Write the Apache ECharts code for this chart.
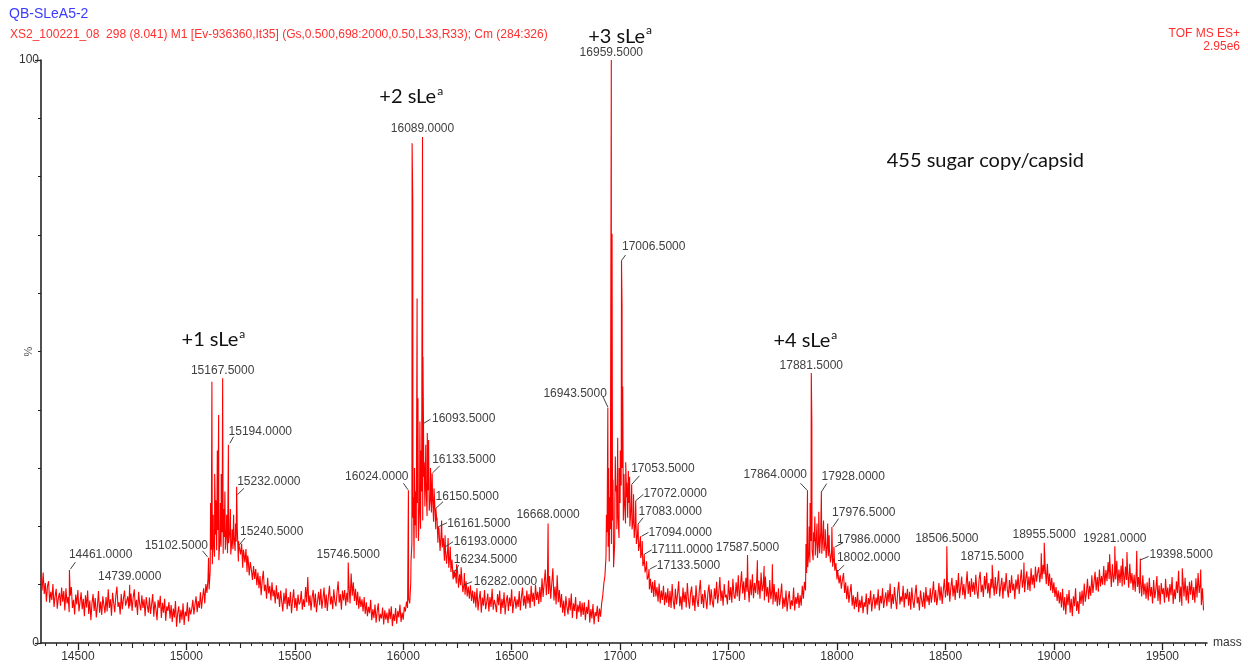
<!DOCTYPE html>
<html>
<head>
<meta charset="utf-8">
<script src="https://cdn.jsdelivr.net/npm/echarts@6/dist/echarts.min.js"></script>
<style>
  html, body { margin: 0; padding: 0; background: #ffffff; }
  #chart { width: 1248px; height: 667px; }
</style>
</head>
<body>
<div id="chart"></div>
<script>
// ---- Spectrum data (deconvoluted mass, % intensity) ----
// Baseline trace sampled every 5 Da starting at 14330 Da (one row = 100 Da).
const massStart = 14330;
const massStep = 5;
const baseline = [
  11.2, 9.0, 12.1, 8.4, 10.3, 7.1, 9.8, 10.6, 6.9, 8.8, 7.4, 10.1, 6.2, 8.0, 9.3, 5.9, 7.7, 8.6, 6.4, 9.5,          // 14330
  7.1, 8.9, 5.6, 9.4, 6.8, 7.9, 5.3, 8.1, 9.6, 6.0, 7.4, 4.9, 8.3, 6.6, 9.1, 5.4, 7.0, 8.7, 5.8, 7.6,              // 14430
  4.6, 8.2, 6.1, 9.0, 5.0, 7.3, 3.9, 6.8, 8.4, 5.5, 7.7, 4.4, 6.3, 8.9, 5.2, 7.1, 4.8, 8.0, 6.5, 5.1,              // 14530
  7.9, 5.4, 9.2, 6.0, 7.5, 4.7, 8.6, 6.9, 5.3, 8.1, 9.7, 6.2, 7.0, 4.9, 8.4, 5.8, 7.6, 9.0, 6.4, 7.2,              // 14630
  8.0, 5.9, 6.3, 8.5, 5.5, 7.8, 9.2, 6.1, 7.4, 4.8, 8.8, 6.7, 5.6, 8.2, 6.0, 7.5, 4.6, 7.9, 6.4, 5.2,              // 14730
  7.8, 5.0, 6.6, 8.4, 4.5, 7.1, 5.8, 3.9, 7.4, 6.0, 8.1, 4.3, 6.9, 5.2, 7.6, 3.8, 6.3, 5.5, 7.0, 4.2,              // 14830
  6.5, 3.6, 5.9, 4.4, 7.2, 2.8, 5.1, 6.3, 3.4, 5.7, 4.0, 6.8, 3.1, 5.4, 4.6, 7.0, 3.7, 6.1, 4.9, 5.8,              // 14930
  7.4, 4.9, 6.6, 8.0, 5.3, 7.2, 6.0, 8.7, 5.9, 7.8, 9.4, 6.8, 10.1, 8.6, 11.0, 9.2, 12.4, 16.0, 13.5, 17.2,        // 15030
  14.8, 18.6, 15.9, 19.4, 14.2, 17.8, 16.5, 19.0, 15.3, 18.2, 16.0, 19.6, 15.4, 17.1, 18.9, 15.2, 17.6, 16.1, 18.3, 15.8, // 15130
  17.4, 19.5, 14.0, 16.3, 15.2, 17.0, 12.9, 15.6, 13.8, 16.1, 12.2, 14.4, 11.6, 13.9, 12.5, 10.8, 13.2, 11.0, 12.7, 9.9, // 15230
  12.1, 9.4, 11.5, 8.2, 10.7, 12.4, 8.9, 10.0, 7.6, 11.2, 8.5, 9.8, 7.3, 10.4, 8.0, 9.1, 6.8, 9.9, 7.5, 8.7,        // 15330
  6.2, 9.0, 7.1, 5.4, 8.6, 6.7, 9.4, 5.8, 7.9, 6.3, 8.8, 5.1, 7.4, 9.2, 6.0, 7.7, 5.5, 8.3, 6.6, 7.0,              // 15430
  8.9, 5.7, 7.5, 6.2, 9.6, 7.0, 11.3, 6.4, 8.2, 5.6, 7.8, 9.1, 6.1, 8.5, 5.3, 7.2, 8.8, 6.5, 9.3, 5.9,             // 15530
  7.6, 9.5, 6.0, 8.3, 5.5, 7.9, 9.8, 6.6, 8.0, 5.8, 9.2, 7.1, 6.3, 8.7, 10.6, 6.9, 8.4, 5.7, 9.0, 7.3,             // 15630
  9.1, 6.4, 8.6, 7.0, 9.9, 6.8, 11.9, 8.1, 10.4, 7.2, 9.3, 6.5, 8.8, 5.9, 8.0, 6.2, 7.5, 5.4, 7.9, 5.0,            // 15730
  7.0, 4.6, 6.2, 5.1, 7.4, 3.9, 5.8, 4.3, 6.6, 3.5, 5.4, 6.8, 3.7, 5.0, 4.2, 6.1, 3.2, 5.6, 4.0, 5.2,              // 15830
  3.4, 5.9, 4.1, 6.3, 2.9, 5.0, 3.8, 6.0, 3.3, 5.5, 4.4, 6.6, 3.6, 5.2, 4.0, 6.2, 5.4, 7.1, 6.0, 7.6,              // 15930
  6.8, 10.5, 17.0, 21.5, 14.5, 20.2, 18.0, 24.0, 17.5, 23.2, 19.6, 26.0, 21.0, 28.5, 23.4, 27.6, 21.8, 26.2, 22.7, 25.1, // 16030
  22.4, 25.6, 20.8, 24.2, 19.5, 21.0, 17.2, 19.6, 15.8, 18.8, 16.4, 18.0, 14.1, 15.9, 13.6, 16.2, 12.9, 15.0, 12.2, 14.3, // 16130
  10.9, 11.2, 12.1, 10.2, 12.6, 9.5, 11.8, 9.9, 11.4, 8.7, 10.1, 8.3, 10.6, 8.0, 9.7, 7.6, 9.9, 7.2, 9.0, 6.8,     // 16230
  8.8, 6.1, 9.4, 5.6, 7.5, 8.9, 5.2, 7.8, 6.4, 9.1, 5.8, 7.0, 8.5, 5.4, 7.9, 6.2, 9.3, 5.7, 7.4, 6.6,              // 16330
  5.3, 8.4, 6.5, 9.0, 5.0, 7.6, 6.0, 8.7, 4.9, 7.2, 8.2, 5.5, 7.8, 6.3, 9.2, 5.1, 7.0, 8.0, 5.9, 7.5,              // 16430
  6.2, 8.9, 5.6, 7.9, 9.5, 6.4, 8.1, 5.9, 9.0, 6.8, 8.4, 6.0, 9.8, 7.1, 8.6, 6.3, 10.0, 7.4, 8.8, 6.7,             // 16530
  9.6, 7.0, 11.1, 7.9, 10.3, 12.6, 8.2, 10.9, 8.4, 11.5, 7.6, 10.2, 12.8, 7.3, 9.7, 6.6, 11.6, 7.0, 9.1, 6.1,      // 16630
  8.4, 5.2, 7.3, 4.6, 8.0, 6.1, 4.9, 7.7, 5.6, 8.5, 4.3, 6.8, 5.5, 7.9, 4.1, 6.6, 5.3, 7.2, 4.5, 6.9,              // 16730
  4.8, 7.0, 3.9, 6.2, 5.0, 7.4, 3.5, 5.8, 4.2, 6.7, 3.2, 5.3, 4.6, 6.4, 3.6, 5.9, 4.5, 6.8, 8.1, 10.2,             // 16830
  11.5, 14.8, 19.0, 16.5, 14.0, 19.5, 17.0, 21.0, 13.0, 17.0, 26.0, 19.5, 22.0, 18.0, 24.0, 27.0, 30.0, 21.0, 24.5, 20.5, // 16930
  25.0, 21.5, 24.0, 20.0, 23.0, 19.5, 21.0, 18.0, 20.5, 17.0, 18.6, 15.8, 16.9, 14.6, 15.5, 13.2, 14.0, 12.1, 13.0, 10.9, // 17030
  11.4, 9.2, 11.0, 8.6, 10.5, 7.9, 10.8, 8.0, 9.6, 7.1, 10.2, 6.8, 9.0, 7.4, 9.8, 6.5, 8.7, 6.9, 9.4, 6.2,         // 17130
  8.9, 6.0, 10.1, 7.2, 5.8, 9.3, 6.6, 8.4, 10.6, 6.3, 8.0, 5.7, 9.5, 7.0, 8.8, 6.1, 10.3, 7.5, 5.9, 8.6,           // 17230
  9.7, 6.4, 8.2, 5.5, 9.9, 7.3, 6.2, 8.9, 10.8, 6.7, 8.4, 6.0, 9.1, 7.6, 5.8, 8.7, 10.0, 6.5, 9.2, 7.1,            // 17330
  6.1, 9.4, 7.5, 10.5, 6.8, 8.6, 11.3, 7.2, 9.0, 6.4, 10.1, 7.8, 8.3, 6.6, 10.7, 7.4, 9.6, 6.9, 11.0, 8.1,         // 17430
  7.6, 10.4, 8.0, 11.6, 7.2, 9.8, 12.3, 8.5, 10.6, 7.4, 11.2, 8.8, 9.9, 7.0, 10.9, 8.2, 11.8, 7.7, 10.3, 8.6,      // 17530
  11.0, 8.3, 10.7, 7.6, 12.1, 8.9, 10.0, 7.3, 11.4, 8.0, 9.6, 6.9, 10.8, 7.5, 9.2, 6.6, 10.1, 7.1, 8.8, 6.3,       // 17630
  9.4, 6.5, 8.1, 10.2, 5.9, 7.8, 6.2, 9.0, 5.4, 7.6, 8.9, 5.8, 7.3, 6.4, 9.5, 5.6, 7.9, 6.7, 8.6, 6.0,             // 17730
  8.2, 6.4, 9.8, 7.6, 10.5, 9.0, 12.0, 13.0, 15.5, 13.8, 17.5, 16.0, 14.2, 17.4, 15.0, 18.2, 14.6, 17.6, 15.4, 19.0, // 17830
  15.3, 18.6, 15.8, 17.4, 14.6, 17.0, 14.9, 16.2, 13.8, 15.5, 13.1, 14.6, 12.4, 13.7, 10.9, 11.8, 10.2, 11.6, 9.3, 10.8, // 17930
  12.0, 8.6, 10.4, 7.5, 9.8, 6.9, 8.7, 10.1, 6.4, 8.2, 5.8, 7.9, 6.2, 8.8, 5.3, 7.4, 6.0, 8.1, 5.1, 7.0,           // 18030
  6.2, 8.5, 4.9, 7.7, 6.6, 9.0, 5.4, 7.3, 8.4, 5.9, 7.8, 6.5, 9.2, 5.6, 8.1, 6.8, 9.4, 6.0, 7.5, 8.7,              // 18130
  6.3, 9.1, 7.0, 10.2, 5.9, 8.4, 6.7, 9.6, 7.4, 5.8, 8.9, 10.5, 6.6, 8.0, 7.1, 9.8, 6.1, 8.6, 7.5, 9.3,            // 18230
  6.4, 8.8, 5.7, 9.5, 7.2, 6.0, 8.3, 10.0, 6.8, 7.9, 5.6, 9.0, 7.4, 6.2, 8.7, 5.9, 9.6, 7.1, 8.2, 6.5,             // 18330
  9.4, 6.9, 8.5, 10.6, 7.0, 9.1, 6.5, 8.0, 10.3, 7.3, 9.7, 6.7, 8.9, 11.0, 7.8, 9.3, 8.1, 10.4, 7.1, 9.5,          // 18430
  11.2, 8.0, 9.9, 7.4, 10.8, 8.6, 12.0, 7.7, 9.5, 11.4, 8.2, 10.1, 7.5, 9.8, 12.3, 8.4, 10.6, 7.9, 11.1, 8.8,      // 18530
  10.4, 8.3, 11.7, 9.0, 7.6, 10.9, 12.2, 8.7, 10.0, 7.9, 11.5, 9.2, 12.1, 8.5, 10.3, 7.7, 11.0, 9.4, 10.6, 8.1,    // 18630
  11.3, 8.4, 10.1, 12.4, 8.0, 9.7, 11.2, 7.6, 10.5, 8.9, 12.0, 9.3, 7.8, 10.8, 8.6, 11.6, 9.0, 10.2, 7.5, 10.9,    // 18730
  9.2, 11.8, 8.4, 10.6, 12.6, 9.5, 11.0, 8.7, 10.9, 12.3, 9.1, 11.4, 8.9, 12.8, 10.0, 11.7, 9.4, 13.1, 10.5, 12.0,  // 18830
  13.0, 10.4, 12.2, 11.0, 13.4, 11.8, 12.9, 10.1, 13.6, 9.8, 11.9, 9.0, 11.2, 8.6, 10.4, 7.9, 9.6, 7.2, 9.0, 6.8,  // 18930
  8.7, 6.1, 9.3, 5.6, 7.9, 4.9, 8.4, 6.5, 9.1, 5.2, 7.6, 4.6, 8.0, 6.3, 9.4, 5.5, 7.2, 5.0, 8.8, 6.7,              // 19030
  9.0, 6.4, 10.2, 7.1, 8.6, 11.0, 7.5, 9.8, 8.1, 11.6, 8.6, 10.4, 12.2, 9.0, 11.3, 8.8, 12.6, 9.7, 11.5, 10.0,     // 19130
  13.2, 9.9, 12.5, 10.6, 13.9, 11.0, 12.8, 9.6, 13.5, 10.4, 12.0, 10.9, 14.1, 9.8, 12.6, 10.3, 13.3, 9.7, 12.4, 10.0, // 19230
  13.1, 10.8, 12.3, 9.5, 13.6, 10.2, 12.0, 9.1, 11.7, 8.8, 12.4, 9.6, 11.3, 8.5, 10.9, 8.0, 11.6, 8.3, 10.2, 7.6,  // 19330
  10.4, 7.3, 11.2, 8.0, 9.6, 6.8, 10.8, 7.7, 9.1, 11.5, 7.2, 9.9, 6.6, 10.3, 8.4, 9.4, 6.9, 11.0, 7.8, 9.5,        // 19430
  7.1, 10.1, 8.2, 11.3, 6.7, 9.2, 7.5, 10.6, 8.6, 12.4, 7.0, 9.7, 6.4, 10.9, 8.0, 11.2, 7.3, 9.8, 6.8, 10.5,       // 19530
  8.3, 10.7, 7.4, 9.6, 6.9, 11.1, 7.8, 12.0, 8.6, 10.2, 6.5, 9.4, 5.6                                             // 19630
];

// Unlabelled sharp lines inside the glycoform clusters and in the baseline.
const peakLines = [
  [15112, 24.0], [15118, 44.8], [15124, 22.0], [15131, 29.0], [15136, 24.5],
  [15143, 33.0], [15149, 39.1], [15157, 24.0], [15161, 29.0], [15172, 23.0],
  [15178, 26.0], [15186, 22.0], [15203, 23.0], [15211, 19.5], [15218, 22.0],
  [15227, 20.5], [15263, 16.0], [15283, 15.0],
  [16036, 14.0], [16041, 85.7], [16044, 75.7], [16047, 25.0], [16052, 30.0],
  [16057, 26.0], [16064, 59.1], [16068, 42.0], [16077, 38.0], [16082, 33.0],
  [16086, 45.0], [16091, 49.1], [16097, 31.0], [16104, 34.0], [16111, 36.0],
  [16117, 34.8], [16126, 30.0], [16142, 26.5], [16156, 21.5], [16177, 21.0],
  [16207, 18.0], [16217, 16.5], [16246, 13.5], [16267, 13.0],
  [16937, 22.0], [16947, 30.0], [16952, 25.0], [16963, 70.2], [16967, 28.0],
  [16976, 24.0], [16978, 32.0], [16984, 27.0], [16989, 35.2], [16996, 30.0],
  [17001, 33.0], [17009, 58.0], [17012, 44.0], [17018, 29.0], [17026, 31.0],
  [17031, 27.5], [17038, 29.5], [17044, 28.5], [17062, 25.5], [17102, 17.5],
  [17122, 14.0],
  [17633, 14.2], [17664, 13.2], [17702, 13.5],
  [17857, 17.0], [17872, 20.0], [17876, 24.0], [17884, 38.3], [17892, 19.0],
  [17898, 21.7], [17908, 20.5], [17916, 22.5], [17938, 21.0], [17946, 19.5],
  [17957, 20.5], [17964, 18.5],
  [18862, 13.8], [18942, 15.4], [19257, 15.2], [19317, 14.5], [19337, 15.6],
  [19382, 15.8], [19592, 12.8], [19677, 12.6]
];

// Annotated peaks (mass, % intensity).
const labelledPeaks = [
  [14461.0, 12.5], [14739.0, 10.0], [15102.5, 14.6], [15167.5, 45.4], [15194.0, 34.0],
  [15232.0, 26.8], [15240.5, 17.5], [15746.5, 13.8], [16024.0, 26.2], [16089.0, 86.8],
  [16093.5, 37.7], [16133.5, 29.1], [16150.5, 23.1], [16161.5, 20.0], [16193.0, 18.5],
  [16234.5, 12.5], [16282.0, 12.0], [16668.0, 20.5], [16943.5, 40.4], [16959.5, 100.0],
  [17006.5, 65.6], [17053.5, 27.2], [17072.0, 24.4], [17083.0, 20.4], [17094.0, 18.3],
  [17111.0, 15.2], [17133.5, 12.7], [17587.5, 15.1], [17864.0, 26.2], [17881.5, 46.3],
  [17928.0, 25.9], [17976.5, 19.9], [17986.0, 16.5], [18002.0, 12.5], [18506.5, 16.6],
  [18715.5, 13.4], [18955.5, 17.2], [19281.0, 16.6], [19398.5, 14.5]
];

// Cluster annotations: text, anchor mass, anchor % intensity.
const clusterNotes = [
  ['+1 sLe', 15125, 52.0],
  ['+2 sLe', 16037, 93.8],
  ['+3 sLe', 17000, 104.1],
  ['+4 sLe', 17854, 51.8]
];
const copyNote = ['455 sugar copy/capsid', 18684, 82.8];

// Axis ticks
const xTickLabels = [14500, 15000, 15500, 16000, 16500, 17000, 17500, 18000, 18500, 19000, 19500];
const xMidTicks = [14750, 15250, 15750, 16250, 16750, 17250, 17750, 18250, 18750, 19250];
const yLabelTicks = [0, 100];

const sampleTitle = 'QB-SLeA5-2';
const runLine = 'XS2_100221_08  298 (8.041) M1 [Ev-936360,It35] (Gs,0.500,698:2000,0.50,L33,R33); Cm (284:326)';
const modeLine = 'TOF MS ES+';
const scaleLine = '2.95e6';

// ---- Layout of the peak labels (pixel offsets from the peak top) ----
// dx/dy: offset of the label centre; lead: leader line [x0, y0, x1, y1].
const peakLabelLayout = [
  { dx: 31, dy: -15, lead: [1, -1, 6, -8] },
  { dx: 0, dy: -8 },
  { dx: -32, dy: -12, lead: [-1, -1, -6, -7] },
  { dx: 0, dy: -8 },
  { dx: 31.7, dy: -13, lead: [1.5, -1.5, 5, -8] },
  { dx: 32, dy: -5, lead: [0.7, 8, 7.4, 1.5] },
  { dx: 33, dy: -9.3, lead: [0.8, 4, 6.5, -3] },
  { dx: 0, dy: -7.5 },
  { dx: -31.4, dy: -13.6, lead: [-0.5, -0.5, -5, -7] },
  { dx: 0, dy: -8 },
  { dx: 40, dy: -5, lead: [0.5, 0, 7, -4] },
  { dx: 31.5, dy: -14, lead: [0.5, -0.5, 7.5, -7.5] },
  { dx: 31.2, dy: -11.6, lead: [0, 0, 7.2, -6.6] },
  { dx: 40.4, dy: -3, lead: [0.4, 0.3, 8.8, -3.7] },
  { dx: 40.3, dy: 6.6, lead: [0.3, 11.6, 8, 6.6] },
  { dx: 31.3, dy: -10.7, lead: [0, 3, 4.6, -5] },
  { dx: 41, dy: 8.7, lead: [-0.5, 12, 7.7, 8.7] },
  { dx: 0, dy: -8.5 },
  { dx: -32.5, dy: -13.8, lead: [0, -0.5, -5, -11] },
  { dx: 0, dy: -7.5 },
  { dx: 32, dy: -14, lead: [0, 0, 4, -5.5] },
  { dx: 31, dy: -15.6, lead: [0, 0, 7.7, -8.6] },
  { dx: 39.4, dy: -7.2, lead: [0, 0, 7.7, -6.4] },
  { dx: 32, dy: -12.7, lead: [0, 0, 5, -6.4] },
  { dx: 39.6, dy: -3.9, lead: [1, 0, 8, -3.9] },
  { dx: 38.6, dy: -4.6, lead: [0, 0, 7.6, -4.6] },
  { dx: 39.3, dy: -3.3, lead: [1, 0, 7.7, -3.5] },
  { dx: 0, dy: -7.5 },
  { dx: -32, dy: -15.3, lead: [-0.4, 0, -7, -7] },
  { dx: 0, dy: -7 },
  { dx: 31.7, dy: -15.3, lead: [0, 0, 5.3, -8.4] },
  { dx: 31.7, dy: -14.3, lead: [1, 0, 6.7, -8.4] },
  { dx: 34.6, dy: -6.8, lead: [1.3, 0, 9, -4] },
  { dx: 31, dy: -12.8, lead: [0, 1.5, 6.8, -5] },
  { dx: 0, dy: -8 },
  { dx: 0, dy: -8 },
  { dx: 0, dy: -7.7 },
  { dx: 0, dy: -8 },
  { dx: 40.7, dy: -3.5, lead: [0, 1.5, 8.3, -2] }
];

const X_MIN = 14330;
const X_MAX = 19706;
const LABEL_HALF_WIDTH = 31.5;
const SANS = '"Liberation Sans", Arial, sans-serif';
const NOTE_FONT = 'Lato, "Open Sans", sans-serif';
const INK = '#333333';

// ---- Build the series table ----
const spectrum = [];
baseline.forEach((v, i) => spectrum.push([massStart + i * massStep, v]));
peakLines.forEach(p => spectrum.push([p[0], p[1]]));
labelledPeaks.forEach(p => spectrum.push([p[0], p[1]]));
spectrum.sort((a, b) => a[0] - b[0]);

const minorTicks = [];
for (let m = 14350; m <= X_MAX; m += 50) minorTicks.push(m);

const chart = echarts.init(document.getElementById('chart'), null, { renderer: 'canvas' });

const option = {
  backgroundColor: '#ffffff',
  animation: false,
  grid: { left: 41, right: 41, top: 60, bottom: 24, containLabel: false },
  xAxis: [
    {
      type: 'value', min: X_MIN, max: X_MAX,
      axisLine: { show: true, lineStyle: { color: '#222', width: 1.6 } },
      axisTick: { show: true, customValues: xTickLabels, length: 7, lineStyle: { color: '#222', width: 1.3 } },
      axisLabel: {
        show: true, customValues: xTickLabels, color: INK, fontSize: 12, fontFamily: SANS, margin: 8,
        formatter: v => String(v)
      },
      splitLine: { show: false },
      name: 'mass', nameLocation: 'end', nameGap: 6,
      nameTextStyle: { color: INK, fontSize: 12, fontFamily: SANS, verticalAlign: 'middle', padding: [0, 0, 4, 0] }
    },
    {
      type: 'value', min: X_MIN, max: X_MAX, position: 'bottom',
      axisLine: { show: false },
      axisTick: { show: true, customValues: minorTicks, length: 3, lineStyle: { color: '#222', width: 1 } },
      axisLabel: { show: false }, splitLine: { show: false }
    },
    {
      type: 'value', min: X_MIN, max: X_MAX, position: 'bottom',
      axisLine: { show: false },
      axisTick: { show: true, customValues: xMidTicks, length: 5, lineStyle: { color: '#222', width: 1.1 } },
      axisLabel: { show: false }, splitLine: { show: false }
    }
  ],
  yAxis: [
    {
      type: 'value', min: 0, max: 100, interval: 10,
      axisLine: { show: true, lineStyle: { color: '#222', width: 1.6 } },
      axisTick: { show: true, length: 3, lineStyle: { color: '#222', width: 1 } },
      axisLabel: { show: false }, splitLine: { show: false },
      name: '%', nameLocation: 'middle', nameRotate: 90, nameGap: 7,
      nameTextStyle: { color: '#555', fontSize: 11, fontFamily: SANS }
    },
    {
      type: 'value', min: 0, max: 100, position: 'left',
      axisLine: { show: false },
      axisTick: { show: true, customValues: yLabelTicks, length: 6, lineStyle: { color: '#222', width: 1.2 } },
      axisLabel: { show: true, customValues: yLabelTicks, color: INK, fontSize: 12, fontFamily: SANS, margin: 2 },
      splitLine: { show: false }
    }
  ],
  graphic: [
    { type: 'text', left: 9, top: 7, style: { text: sampleTitle, fill: '#3a3aff', font: '14px ' + SANS } },
    { type: 'text', left: 10, top: 29, style: { text: runLine, fill: '#ff3030', font: '12px ' + SANS } },
    { type: 'text', right: 8, top: 28, style: { text: modeLine, fill: '#ff3030', font: '12px ' + SANS } },
    { type: 'text', right: 8, top: 41, style: { text: scaleLine, fill: '#ff3030', font: '12px ' + SANS } }
  ],
  series: [
    {
      name: 'spectrum', type: 'line', xAxisIndex: 0, yAxisIndex: 0,
      data: spectrum, showSymbol: false, symbol: 'none', smooth: false,
      sampling: null, clip: true, z: 2,
      lineStyle: { color: '#ff0000', width: 1.1 }
    },
    {
      name: 'peak labels', type: 'custom', xAxisIndex: 0, yAxisIndex: 0,
      data: labelledPeaks.map((p, i) => [p[0], p[1], i]),
      encode: { x: 0, y: 1 }, clip: false, silent: true, z: 5,
      renderItem: function (params, api) {
        const m = api.value(0), v = api.value(1), i = api.value(2);
        const p = api.coord([m, v]);
        const L = peakLabelLayout[i];
        let align = 'center';
        let tx = p[0] + L.dx;
        if (L.dx > 5) { align = 'left'; tx = p[0] + L.dx - LABEL_HALF_WIDTH; }
        else if (L.dx < -5) { align = 'right'; tx = p[0] + L.dx + LABEL_HALF_WIDTH; }
        const children = [{
          type: 'text',
          style: {
            text: m.toFixed(4), x: tx, y: p[1] + L.dy,
            align: align, verticalAlign: 'middle',
            fill: '#404040', font: '12px ' + SANS
          }
        }];
        if (L.lead) {
          children.push({
            type: 'line',
            shape: { x1: p[0] + L.lead[0], y1: p[1] + L.lead[1], x2: p[0] + L.lead[2], y2: p[1] + L.lead[3] },
            style: { stroke: '#404040', lineWidth: 1 }
          });
        }
        return { type: 'group', children: children };
      }
    },
    {
      name: 'cluster notes', type: 'custom', xAxisIndex: 0, yAxisIndex: 0,
      data: clusterNotes.map((n, i) => [n[1], n[2], i]),
      encode: { x: 0, y: 1 }, clip: false, silent: true, z: 6,
      renderItem: function (params, api) {
        const p = api.coord([api.value(0), api.value(1)]);
        const note = clusterNotes[api.value(2)];
        return {
          type: 'text',
          style: {
            text: '{b|' + note[0] + '}{s|a}',
            x: p[0], y: p[1], align: 'center', verticalAlign: 'middle',
            rich: {
              b: { fontSize: 20, fontFamily: NOTE_FONT, fill: '#111', color: '#111' },
              s: { fontSize: 12, fontFamily: NOTE_FONT, fill: '#111', color: '#111', padding: [0, 0, 11, 1] }
            }
          }
        };
      }
    },
    {
      name: 'copy note', type: 'custom', xAxisIndex: 0, yAxisIndex: 0,
      data: [[copyNote[1], copyNote[2]]],
      encode: { x: 0, y: 1 }, clip: false, silent: true, z: 6,
      renderItem: function (params, api) {
        const p = api.coord([api.value(0), api.value(1)]);
        return {
          type: 'text',
          style: {
            text: copyNote[0], x: p[0], y: p[1], align: 'center', verticalAlign: 'middle',
            fill: '#111', font: '20px ' + NOTE_FONT
          }
        };
      }
    }
  ]
};

chart.setOption(option);
</script>
</body>
</html>
